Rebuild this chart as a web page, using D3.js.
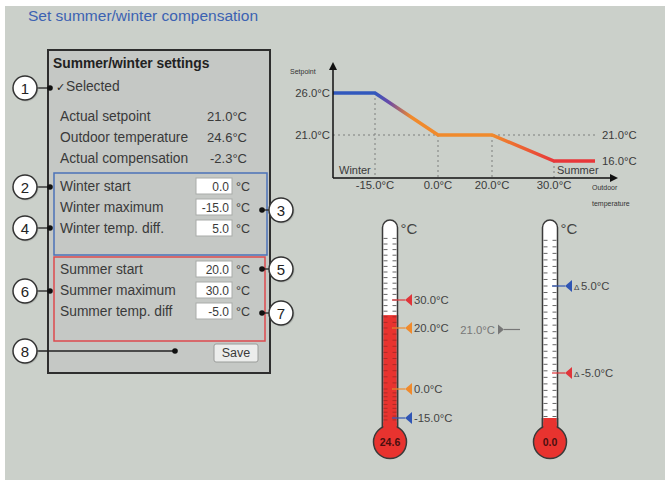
<!DOCTYPE html>
<html>
<head>
<meta charset="utf-8">
<script src="https://cdn.jsdelivr.net/npm/d3@7"></script>
<style>
  body { margin: 0; background: #fff; }
  svg { display: block; font-family: "Liberation Sans", Arial, sans-serif; }
</style>
</head>
<body>
<svg id="chart"></svg>
<script>
var width = 665,
    height = 480;

// panel rows
var infoLabels = ["Actual setpoint", "Outdoor temperature", "Actual compensation"];
var infoValues = ["21.0", "24.6", "-2.3"];
var winterLabels = ["Winter start", "Winter maximum", "Winter temp. diff."];
var winterValues = ["0.0", "-15.0", "5.0"];
var summerLabels = ["Summer start", "Summer maximum", "Summer temp. diff"];
var summerValues = ["20.0", "30.0", "-5.0"];

// compensation curve (outdoor temp -> setpoint)
var curveOutdoor = [-25, -15, 0, 20, 30, 40];
var curveSetpoint = [26, 26, 21, 21, 16, 16];
var xTicks = [-15, 0, 20, 30];
var yTicks = [26, 21];

// thermometers
var outdoorTemp = 24.6;
var outdoorMarkers = [30, 20, 0, -15];
var outdoorMarkerColors = ["#e0353a", "#f08a2c", "#f08a2c", "#2f55b4"];
var compValue = 0.0;
var compMarkers = [5, -5];
var compMarkerColors = ["#2f55b4", "#e0353a"];
var actualSetpoint = 21.0;

// callouts
var leftCallouts = [1, 2, 4, 6, 8];
var rightCallouts = [3, 5, 7];

var txt = "#3a3a3a";

var svg = d3.select("#chart")
    .attr("width", width)
    .attr("height", height);

svg.append("rect")
    .attr("x", 5).attr("y", 6)
    .attr("width", width - 5).attr("height", height - 6)
    .attr("fill", "#cbd0ca");

svg.append("text")
    .attr("x", 28).attr("y", 21)
    .attr("font-size", 15.5)
    .attr("fill", "#3b62b2")
    .text("Set summer/winter compensation");

// ---------- settings panel ----------
var panel = svg.append("g");

panel.append("rect")
    .attr("x", 48).attr("y", 50)
    .attr("width", 222).attr("height", 323)
    .attr("fill", "#c5c8c5")
    .attr("stroke", "#2e2e2e")
    .attr("stroke-width", 2);

panel.append("text")
    .attr("x", 53).attr("y", 68)
    .attr("font-size", 13.8)
    .attr("font-weight", "bold")
    .attr("fill", "#222")
    .text("Summer/winter settings");

panel.append("text")
    .attr("x", 56).attr("y", 91)
    .attr("font-size", 11)
    .attr("fill", "#222")
    .text("\u2713");
panel.append("text")
    .attr("x", 66).attr("y", 91)
    .attr("font-size", 13.8)
    .attr("fill", txt)
    .text("Selected");

var rowY = d3.scalePoint().domain([0, 1, 2]).range([0, 42]);

infoLabels.forEach(function(d, i){
    panel.append("text")
        .attr("x", 60).attr("y", 121 + rowY(i))
        .attr("font-size", 13.8)
        .attr("fill", txt)
        .text(d);
    panel.append("text")
        .attr("x", 247).attr("y", 121 + rowY(i))
        .attr("font-size", 13)
        .attr("text-anchor", "end")
        .attr("fill", txt)
        .text(infoValues[i] + "\u00b0C");
});

panel.append("rect")
    .attr("x", 54).attr("y", 173)
    .attr("width", 213).attr("height", 82)
    .attr("fill", "none")
    .attr("stroke", "#4b72b8")
    .attr("stroke-width", 1.5);

panel.append("rect")
    .attr("x", 54).attr("y", 257)
    .attr("width", 211).attr("height", 84)
    .attr("fill", "none")
    .attr("stroke", "#dd4a4e")
    .attr("stroke-width", 1.5);

function inputRows(labels, values, y0){
    labels.forEach(function(d, i){
        var y = y0 + rowY(i);
        panel.append("text")
            .attr("x", 60).attr("y", y)
            .attr("font-size", 13.8)
            .attr("fill", txt)
            .text(d);
        panel.append("rect")
            .attr("x", 196).attr("y", y - 13)
            .attr("width", 36).attr("height", 16)
            .attr("fill", "#fff")
            .attr("stroke", "#a9aba9")
            .attr("stroke-width", 1);
        panel.append("text")
            .attr("x", 229).attr("y", y - 0.5)
            .attr("font-size", 12)
            .attr("text-anchor", "end")
            .attr("fill", txt)
            .text(values[i]);
        panel.append("text")
            .attr("x", 236).attr("y", y)
            .attr("font-size", 12.5)
            .attr("fill", txt)
            .text("\u00b0C");
    });
}
inputRows(winterLabels, winterValues, 191);
inputRows(summerLabels, summerValues, 274);

panel.append("rect")
    .attr("x", 214).attr("y", 344)
    .attr("width", 44).attr("height", 18)
    .attr("rx", 2)
    .attr("fill", "#ecedec")
    .attr("stroke", "#9a9c9a");
panel.append("text")
    .attr("x", 236).attr("y", 357)
    .attr("font-size", 12.5)
    .attr("text-anchor", "middle")
    .attr("fill", txt)
    .text("Save");

// ---------- callouts ----------
var leftY = { 1: 88, 2: 187, 4: 228, 6: 291, 8: 351 };
var rightY = { 3: 210, 5: 269, 7: 313 };

function callout(cx, cy, dotX, n){
    svg.append("line")
        .attr("x1", cx).attr("y1", cy)
        .attr("x2", dotX).attr("y2", cy)
        .attr("stroke", "#222").attr("stroke-width", 1.3);
    svg.append("circle")
        .attr("cx", dotX).attr("cy", cy).attr("r", 2.8)
        .attr("fill", "#111");
    svg.append("circle")
        .attr("cx", cx + 1).attr("cy", cy + 1).attr("r", 12.5)
        .attr("fill", "#9a9d9a").attr("opacity", 0.5);
    svg.append("circle")
        .attr("cx", cx).attr("cy", cy).attr("r", 12)
        .attr("fill", "#fff")
        .attr("stroke", "#333").attr("stroke-width", 1.5);
    svg.append("text")
        .attr("x", cx).attr("y", cy + 5.5)
        .attr("font-size", 15)
        .attr("text-anchor", "middle")
        .attr("fill", "#222")
        .text(n);
}
leftCallouts.forEach(function(n){
    callout(25, leftY[n], n === 8 ? 175 : 50, n);
});
rightCallouts.forEach(function(n){
    callout(281, rightY[n], 262, n);
});

// ---------- compensation curve ----------
var x = d3.scaleLinear()
    .domain(curveOutdoor)
    .range([333, 375, 438, 492, 554, 595]);
var y = d3.scaleLinear()
    .domain([16, 21, 26])
    .range([161, 135, 93]);
var axisY = 178;

var chart = svg.append("g");

var defs = svg.append("defs");
var grad = defs.append("linearGradient")
    .attr("id", "curveGrad")
    .attr("gradientUnits", "userSpaceOnUse")
    .attr("x1", x(-25)).attr("x2", x(40))
    .attr("y1", 0).attr("y2", 0);
var span = x(40) - x(-25);
[[x(-15), "#3158bd"], [x(-15) + 14, "#6a4aa8"], [x(-15) + 36, "#f08a2c"],
 [x(20), "#f08a2c"], [x(30), "#e8373a"]].forEach(function(s){
    grad.append("stop")
        .attr("offset", (s[0] - x(-25)) / span)
        .attr("stop-color", s[1]);
});

// dotted guides
chart.append("line")
    .attr("x1", x(-25)).attr("x2", 598)
    .attr("y1", y(21)).attr("y2", y(21))
    .attr("stroke", "#7d7f7d").attr("stroke-dasharray", "2,3");
xTicks.forEach(function(t, i){
    chart.append("line")
        .attr("x1", x(t)).attr("x2", x(t))
        .attr("y1", y(curveSetpoint[i + 1])).attr("y2", axisY)
        .attr("stroke", "#7d7f7d").attr("stroke-dasharray", "2,3");
});

chart.append("path")
    .datum(curveOutdoor.map(function(d, i){ return [d, curveSetpoint[i]]; }))
    .attr("d", d3.line().x(function(d){ return x(d[0]); }).y(function(d){ return y(d[1]); }))
    .attr("fill", "none")
    .attr("stroke", "url(#curveGrad)")
    .attr("stroke-width", 3.5);

// axes
chart.append("line")
    .attr("x1", 333).attr("x2", 333)
    .attr("y1", axisY).attr("y2", 68)
    .attr("stroke", "#111").attr("stroke-width", 1.5);
chart.append("path")
    .attr("d", "M333,62 L329,70 L337,70 Z")
    .attr("fill", "#111");
chart.append("line")
    .attr("x1", 333).attr("x2", 612)
    .attr("y1", axisY).attr("y2", axisY)
    .attr("stroke", "#111").attr("stroke-width", 1.5);
chart.append("path")
    .attr("d", "M618," + axisY + " L610," + (axisY - 4) + " L610," + (axisY + 4) + " Z")
    .attr("fill", "#111");

chart.append("text")
    .attr("x", 290).attr("y", 74)
    .attr("font-size", 7)
    .attr("fill", "#333")
    .text("Setpoint");

yTicks.forEach(function(t){
    chart.append("text")
        .attr("x", 330).attr("y", y(t) + 4)
        .attr("font-size", 11.3)
        .attr("text-anchor", "end")
        .attr("fill", txt)
        .text(t.toFixed(1) + "\u00b0C");
});
xTicks.forEach(function(t){
    chart.append("text")
        .attr("x", x(t)).attr("y", 189)
        .attr("font-size", 11.3)
        .attr("text-anchor", "middle")
        .attr("fill", txt)
        .text(t.toFixed(1) + "\u00b0C");
});
[21, 16].forEach(function(t){
    chart.append("text")
        .attr("x", 602).attr("y", y(t) + 4)
        .attr("font-size", 11.3)
        .attr("fill", txt)
        .text(t.toFixed(1) + "\u00b0C");
});
chart.append("text")
    .attr("x", 339).attr("y", 174)
    .attr("font-size", 11).attr("fill", txt)
    .text("Winter");
chart.append("text")
    .attr("x", 557).attr("y", 174)
    .attr("font-size", 11).attr("fill", txt)
    .text("Summer");
chart.append("text")
    .attr("x", 592).attr("y", 190)
    .attr("font-size", 7).attr("fill", "#333")
    .text("Outdoor");
chart.append("text")
    .attr("x", 592).attr("y", 206)
    .attr("font-size", 7).attr("fill", "#333")
    .text("temperature");

// ---------- thermometers ----------
function thermometer(cx, scale, value, fillTop, tickVals, label){
    var g = svg.append("g");
    var tw = 15, top = 220, bulbY = 442;
    var x0 = cx - tw / 2, x1 = cx + tw / 2;
    g.append("path")
        .attr("d", "M" + x0 + "," + (bulbY - 10) + " L" + x0 + "," + (top + tw / 2) +
            " A" + (tw / 2) + "," + (tw / 2) + " 0 0 1 " + x1 + "," + (top + tw / 2) +
            " L" + x1 + "," + (bulbY - 10))
        .attr("fill", "#fff")
        .attr("stroke", "#3a3a3a").attr("stroke-width", 1.5);
    g.append("rect")
        .attr("x", x0 + 0.8).attr("y", fillTop)
        .attr("width", tw - 1.6).attr("height", bulbY - fillTop)
        .attr("fill", "#e8332f");
    g.append("line")
        .attr("x1", x0).attr("x2", x0).attr("y1", fillTop).attr("y2", bulbY - 10)
        .attr("stroke", "#3a3a3a").attr("stroke-width", 1.5);
    g.append("line")
        .attr("x1", x1).attr("x2", x1).attr("y1", fillTop).attr("y2", bulbY - 10)
        .attr("stroke", "#3a3a3a").attr("stroke-width", 1.5);
    tickVals.forEach(function(t){
        var ty = scale(t);
        if (ty < top + 14 || ty > 428) return;
        var col = ty > fillTop ? "#b02a26" : "#666";
        g.append("line")
            .attr("x1", x0 + 1).attr("x2", x0 + 5)
            .attr("y1", ty).attr("y2", ty)
            .attr("stroke", col).attr("stroke-width", 1);
        g.append("line")
            .attr("x1", x1 - 5).attr("x2", x1 - 1)
            .attr("y1", ty).attr("y2", ty)
            .attr("stroke", col).attr("stroke-width", 1);
    });
    g.append("circle")
        .attr("cx", cx).attr("cy", bulbY).attr("r", 16.5)
        .attr("fill", "#e8332f")
        .attr("stroke", "#3a3a3a").attr("stroke-width", 1.5);
    g.append("rect")
        .attr("x", x0 + 0.8).attr("y", bulbY - 20)
        .attr("width", tw - 1.6).attr("height", 8)
        .attr("fill", "#e8332f");
    g.append("text")
        .attr("x", cx).attr("y", bulbY + 4)
        .attr("font-size", 10.5).attr("font-weight", "bold")
        .attr("text-anchor", "middle")
        .attr("fill", "#4a1010")
        .text(label);
    g.append("text")
        .attr("x", x1 + 3).attr("y", 234)
        .attr("font-size", 15).attr("fill", "#444")
        .text("\u00b0C");
    return g;
}

function marker(cx, ty, color, text, delta){
    var tip = cx + 15;
    svg.append("line")
        .attr("x1", cx + 2).attr("x2", tip)
        .attr("y1", ty).attr("y2", ty)
        .attr("stroke", color).attr("stroke-width", 1.2);
    svg.append("path")
        .attr("d", "M" + tip + "," + ty + " L" + (tip + 7) + "," + (ty - 6) + " L" + (tip + 7) + "," + (ty + 6) + " Z")
        .attr("fill", color);
    var tx = tip + 9;
    if (delta) {
        svg.append("text")
            .attr("x", tx).attr("y", ty + 4)
            .attr("font-size", 8).attr("fill", "#444")
            .text("\u0394");
        tx += 7;
    }
    svg.append("text")
        .attr("x", tx).attr("y", ty + 4)
        .attr("font-size", 11.3).attr("fill", "#444")
        .text(text);
}

var t1 = d3.scaleLinear()
    .domain([-15, 0, 20, 30])
    .range([418, 389, 328, 300]);
thermometer(390, t1, outdoorTemp, t1(outdoorTemp), d3.range(-18, 60, 2), outdoorTemp.toFixed(1));
outdoorMarkers.forEach(function(m, i){
    marker(390, t1(m), outdoorMarkerColors[i], m.toFixed(1) + "\u00b0C", false);
});

var t2 = d3.scaleLinear()
    .domain([-5, 5])
    .range([373, 286]);
thermometer(550, t2, compValue, 418, d3.range(-10, 12.5, 0.75), compValue.toFixed(1));
compMarkers.forEach(function(m, i){
    marker(550, t2(m), compMarkerColors[i], m.toFixed(1) + "\u00b0C", true);
});

// actual setpoint pointer between thermometers
var spY = t2(0);
svg.append("text")
    .attr("x", 495).attr("y", spY + 4)
    .attr("font-size", 11.3).attr("text-anchor", "end")
    .attr("fill", "#777")
    .text(actualSetpoint.toFixed(1) + "\u00b0C");
svg.append("path")
    .attr("d", "M504," + spY + " L498," + (spY - 5) + " L498," + (spY + 5) + " Z")
    .attr("fill", "#777");
svg.append("line")
    .attr("x1", 504).attr("x2", 520)
    .attr("y1", spY).attr("y2", spY)
    .attr("stroke", "#777").attr("stroke-width", 1.2);
</script>
</body>
</html>
